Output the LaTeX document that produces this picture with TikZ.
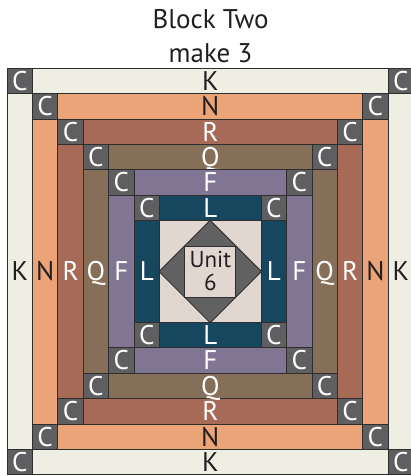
\documentclass[tikz,border=0pt]{standalone}
\usepackage{fontspec}
\setmainfont{PT Sans}
\definecolor{cK}{HTML}{EFEEE3}
\definecolor{cN}{HTML}{EBA477}
\definecolor{cR}{HTML}{A66A57}
\definecolor{cQ}{HTML}{866F59}
\definecolor{cF}{HTML}{807693}
\definecolor{cL}{HTML}{16475F}
\definecolor{cC}{HTML}{5F5F61}
\definecolor{cBg}{HTML}{E2D6D1}
\definecolor{cDia}{HTML}{616161}
\definecolor{edge}{HTML}{2E2E2E}
\definecolor{ink}{HTML}{231F20}
\begin{document}
\begin{tikzpicture}[x=1pt,y=1pt,
  piece/.style={draw=edge, line width=0.8pt, inner sep=0pt, outer sep=0pt,
    font=\fontsize{27}{27}\selectfont, text height=18.9pt, text depth=0pt},
  cornerbox/.style={piece, fill=cC, text=white, minimum width=\w, minimum height=\w},
  titletext/.style={font=\fontsize{27}{27}\selectfont, text=ink, inner sep=0pt, anchor=base}]
\useasboundingbox (0,0) rectangle (411,476);
\clip (0,0) rectangle (411,476);
\def\cx{210.3}
\def\cy{204.5}
\def\S{406.5}
\def\w{25.4}
\node[titletext] (title1) at (210.5,447) {Block Two};
\node[titletext] (title2) at (210.5,413) {make 3};
\foreach \i/\fc/\tc/\t in {0/cK/ink/K,1/cN/ink/N,2/cR/white/R,3/cQ/white/Q,4/cF/white/F,5/cL/white/L}{
  \pgfmathsetmacro\h{\S/2-\i*\w}
  \pgfmathsetmacro\m{\h-\w/2}
  \pgfmathsetmacro\len{2*(\h-\w)}
  \node[piece, fill=\fc, text=\tc, minimum width=\len, minimum height=\w] (top\i) at (\cx,\cy+\m) {\t};
  \node[piece, fill=\fc, text=\tc, minimum width=\len, minimum height=\w] (bot\i) at (\cx,\cy-\m) {\t};
  \node[piece, fill=\fc, text=\tc, minimum width=\w, minimum height=\len] (lft\i) at (\cx-\m,\cy) {\t};
  \node[piece, fill=\fc, text=\tc, minimum width=\w, minimum height=\len] (rgt\i) at (\cx+\m,\cy) {\t};
  \node[cornerbox] (ctl\i) at (\cx-\m,\cy+\m) {C};
  \node[cornerbox] (ctr\i) at (\cx+\m,\cy+\m) {C};
  \node[cornerbox] (cbl\i) at (\cx-\m,\cy-\m) {C};
  \node[cornerbox] (cbr\i) at (\cx+\m,\cy-\m) {C};
}
\pgfmathsetmacro\hc{\S/2-6*\w}
\node[draw=edge, line width=0.8pt, fill=cBg, minimum size=2*\hc, inner sep=0pt] (centre) at (\cx,\cy) {};
\draw[draw=edge, line width=0.8pt, fill=cDia] (centre.north) -- (centre.east) -- (centre.south) -- (centre.west) -- cycle;
\node[draw=edge, line width=0.8pt, fill=cBg, minimum size=\hc, inner sep=0pt] (unit) at (\cx,\cy) {};
\node[font=\fontsize{23}{23}\selectfont, text=ink, inner sep=0pt, anchor=base] (unitA) at (\cx,208.7) {Unit};
\node[font=\fontsize{23}{23}\selectfont, text=ink, inner sep=0pt, anchor=base] (unitB) at (\cx,185) {6};
\end{tikzpicture}
\end{document}
